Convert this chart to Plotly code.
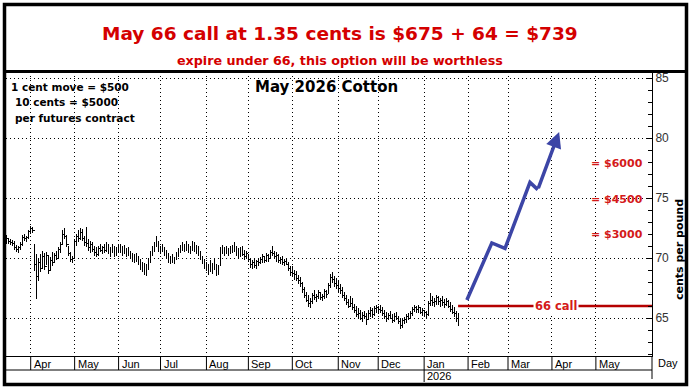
import pandas as pd
import plotly.graph_objects as go

# ---------------- data ----------------
start_date = "2025-03-14"          # first daily bar
axis_end = "2026-05-29"            # last month shown on the time axis

highs = [
    71.9, 71.7, 71.6, 71.5, 71.4, 71.1, 71.0, 71.3, 71.9, 72.0, 71.8, 72.3,
    72.7, 72.6, 71.2, 70.3, 70.0, 70.3, 70.6, 70.4, 70.5, 70.2, 70.1, 70.5, 70.4, 70.6, 70.9, 71.3, 72.3, 72.5, 71.9, 71.0, 70.5, 70.2,
    71.6, 72.0, 72.3, 72.5, 72.4, 71.8, 72.6, 71.6, 71.4, 71.3, 71.0, 70.9, 71.0, 71.2, 71.0, 71.2, 71.3, 71.1, 70.9, 71.2, 71.0, 70.9,
    71.1, 71.2, 71.0, 71.1, 70.8, 70.9, 70.6, 70.4, 70.3, 70.4, 70.2, 69.9, 69.7, 69.6, 69.5, 70.0, 70.6, 71.0, 71.3, 71.8, 71.4,
    71.0, 71.2, 70.9, 70.6, 70.4, 70.2, 70.3, 70.1, 70.5, 70.8, 71.1, 71.3, 71.2, 71.4, 71.2, 71.0, 71.4, 71.3, 71.1, 71.0, 70.6, 70.2, 69.9,
    69.7, 69.5, 69.8, 69.6, 69.9, 69.5, 69.4, 70.9, 71.1, 70.9, 71.0, 70.8, 71.0, 71.1, 71.3, 71.0, 70.8, 70.9, 71.0, 70.7, 70.6,
    70.3, 70.0, 69.8, 69.9, 69.8, 70.0, 70.1, 70.3, 70.2, 70.4, 70.3, 70.7, 71.0, 70.6, 70.5, 70.3, 70.1, 70.2, 69.9, 70.0, 69.7, 69.3,
    69.3, 69.0, 68.9, 68.6, 68.4, 68.0, 67.6, 67.2, 66.9, 66.7, 67.1, 67.3, 67.0, 67.3, 67.2, 67.0, 67.4, 67.3, 67.9, 68.7, 68.8, 68.5, 68.3,
    68.1, 67.8, 67.6, 67.2, 66.9, 66.6, 66.8, 66.7, 66.2, 66.0, 65.8, 65.7, 65.5, 65.6, 65.4, 65.7, 65.9, 65.8, 66.0, 66.1,
    66.0, 66.1, 65.9, 65.7, 65.5, 65.4, 65.6, 65.3, 65.4, 65.5, 65.2, 65.0, 65.0, 65.1, 65.3, 65.4, 65.6, 65.9, 66.1, 66.0, 66.1, 65.9, 65.8,
    65.7, 65.6, 66.4, 67.1, 66.8, 66.7, 66.9, 66.8, 66.7, 66.8, 66.6, 66.7, 66.5, 66.3, 66.1, 65.9, 65.6, 65.4,
]
lows = [
    71.2, 71.2, 71.1, 71.0, 70.7, 70.5, 70.4, 70.7, 71.0, 71.4, 71.3, 71.6,
    72.0, 72.1, 68.9, 66.6, 68.1, 68.8, 69.2, 69.0, 69.4, 68.7, 68.9, 69.3, 69.6, 69.8, 70.0, 70.4, 71.1, 71.6, 70.9, 70.2, 69.7, 69.6,
    69.9, 71.0, 71.3, 71.5, 71.4, 71.0, 70.9, 70.6, 70.4, 70.5, 70.2, 70.1, 70.2, 70.5, 70.3, 70.4, 70.5, 70.3, 70.1, 70.4, 70.1, 70.2,
    70.4, 70.4, 70.2, 70.3, 70.1, 70.2, 69.9, 69.7, 69.6, 69.7, 69.4, 69.0, 68.8, 68.6, 68.5, 69.0, 69.6, 70.2, 70.5, 70.9, 70.5,
    70.3, 70.5, 70.2, 69.9, 69.6, 69.5, 69.6, 69.5, 69.8, 70.1, 70.4, 70.6, 70.5, 70.6, 70.4, 70.3, 70.6, 70.5, 70.3, 70.2, 69.8, 69.5, 69.1,
    68.9, 68.6, 68.8, 68.7, 69.0, 68.5, 68.6, 69.3, 70.3, 70.2, 70.3, 70.2, 70.3, 70.4, 70.5, 70.2, 70.0, 70.1, 70.2, 69.8, 69.9,
    69.7, 69.2, 69.1, 69.2, 69.1, 69.3, 69.5, 69.6, 69.6, 69.7, 69.7, 69.9, 70.2, 69.9, 69.7, 69.6, 69.5, 69.4, 69.3, 69.4, 68.9, 68.5,
    68.5, 68.2, 68.1, 67.8, 67.6, 67.1, 66.7, 66.3, 65.9, 65.8, 66.2, 66.5, 66.3, 66.6, 66.5, 66.4, 66.6, 66.7, 67.0, 67.5, 67.9, 67.6, 67.4,
    67.2, 67.0, 66.7, 66.4, 66.1, 65.8, 65.9, 65.7, 65.4, 65.1, 64.9, 64.8, 64.7, 64.9, 64.4, 64.8, 65.1, 65.0, 65.2, 65.4,
    65.3, 65.4, 65.2, 64.9, 64.7, 64.8, 64.9, 64.6, 64.7, 64.8, 64.5, 64.1, 64.2, 64.5, 64.6, 64.8, 64.9, 65.2, 65.5, 65.4, 65.4, 65.3, 65.2,
    65.1, 64.9, 65.2, 66.0, 66.0, 65.9, 66.1, 66.1, 65.9, 66.0, 65.8, 66.0, 65.8, 65.5, 65.3, 65.1, 64.7, 64.3,
]
closes = [
    71.6, 71.4, 71.3, 71.2, 70.9, 70.7, 70.9, 71.1, 71.7, 71.6, 71.7, 72.2,
    72.5, 72.3, 69.5, 68.5, 69.6, 69.1, 70.1, 69.3, 70.2, 69.0, 69.8, 69.6, 70.2, 70.0, 70.7, 71.1, 72.0, 71.8, 71.1, 70.4, 69.9, 70.0,
    71.4, 71.8, 71.6, 72.1, 71.6, 71.3, 71.2, 70.9, 71.1, 70.7, 70.5, 70.3, 70.8, 70.6, 70.9, 70.6, 71.1, 70.5, 70.7, 70.9, 70.3, 70.7,
    70.9, 70.6, 70.8, 70.5, 70.6, 70.4, 70.2, 69.9, 70.1, 69.8, 69.6, 69.2, 69.4, 68.8, 69.2, 69.8, 70.4, 70.8, 71.0, 71.4, 70.8,
    70.8, 70.7, 70.6, 70.1, 69.8, 70.0, 69.7, 69.9, 70.3, 70.6, 70.9, 71.0, 70.7, 71.2, 70.6, 70.8, 71.1, 70.7, 70.9, 70.4, 70.0, 69.7, 69.4,
    69.1, 69.3, 69.0, 69.4, 69.2, 68.8, 69.2, 70.7, 70.6, 70.8, 70.5, 70.6, 70.8, 70.7, 71.0, 70.4, 70.5, 70.7, 70.3, 70.1, 70.4,
    69.9, 69.5, 69.6, 69.4, 69.7, 69.6, 69.9, 70.1, 69.8, 70.2, 70.0, 70.5, 70.4, 70.1, 70.2, 69.8, 69.9, 69.6, 69.7, 69.5, 69.1, 68.8,
    68.7, 68.6, 68.3, 68.1, 67.9, 67.4, 66.9, 66.5, 66.2, 66.4, 66.9, 66.7, 66.8, 67.1, 66.7, 66.8, 67.2, 67.0, 67.7, 68.4, 68.2, 67.9, 67.7,
    67.5, 67.3, 66.9, 66.6, 66.3, 66.0, 66.2, 65.9, 65.6, 65.3, 65.4, 65.0, 65.2, 65.1, 64.9, 65.4, 65.6, 65.3, 65.8, 65.9,
    65.7, 65.6, 65.4, 65.1, 65.0, 65.2, 65.0, 64.8, 65.1, 65.0, 64.7, 64.4, 64.8, 64.9, 65.1, 65.0, 65.4, 65.7, 65.9, 65.7, 65.9, 65.5, 65.6,
    65.5, 65.3, 66.2, 66.5, 66.3, 66.4, 66.7, 66.4, 66.5, 66.3, 66.1, 66.4, 66.0, 65.7, 65.5, 65.4, 65.0, 64.8,
]

# projected path (trading-day index, cents/lb)
proj_x = [230.4, 242.9, 249.5, 262.0, 265.9]
proj_y = [66.5, 71.25, 70.8, 76.3, 75.7]
arrow_tip_x = 276.6
arrow_tip_y = 80.5

strike = 66
strike_start = 226
strike_label = "66 call"
strike_label_x = 275

y_ticks = [65, 70, 75, 80, 85]
profit_labels = ["= $6000", "= $4500", "= $3000"]
profit_levels = [77.9, 74.9, 72.0]

title_1 = "May 66 call at 1.35 cents is $675 + 64 = $739"
title_2 = "expire under 66, this option will be worthless"
chart_name = "May 2026 Cotton"
note_lines = ["1 cent move = $500", "10 cents = $5000", "per futures contract"]
y_title = "cents per pound"

# ---------------- layout geometry ----------------
W, H = 691, 390
L, R, T, B = 6, 652, 72, 356
X_RANGE = [-0.37, 323.1]
Y_RANGE = [61.833, 85.5]


def fx(p):
    return (p - L) / (R - L)


def fy(p):
    return (B - p) / (B - T)


n = len(closes)
bar_x = list(range(n))
opens = [closes[0]] + closes[:-1]

axis_days = pd.bdate_range(start_date, axis_end)
month_starts = [i for i in range(1, len(axis_days)) if axis_days[i].month != axis_days[i - 1].month]
month_names = [axis_days[i].strftime("%b") for i in month_starts]

RED = "#d40000"
RED2 = "#d41a1a"
BLUE = "#3c45a6"
BOLD = "DejaVu Sans"
REG = "Liberation Sans"

fig = go.Figure()
fig.add_trace(go.Ohlc(
    x=bar_x, open=opens, high=highs, low=lows, close=closes,
    increasing=dict(line=dict(color="black", width=1)),
    decreasing=dict(line=dict(color="black", width=1)),
    tickwidth=0.45, hoverinfo="skip", showlegend=False,
))
fig.add_trace(go.Scatter(
    x=[strike_start, X_RANGE[1]], y=[strike, strike], mode="lines",
    line=dict(color="#b50000", width=2.5), hoverinfo="skip", showlegend=False,
))
fig.add_trace(go.Scatter(
    x=proj_x, y=proj_y, mode="lines",
    line=dict(color=BLUE, width=3.5), hoverinfo="skip", showlegend=False,
))

ann = []
ann.append(dict(x=arrow_tip_x, y=arrow_tip_y, ax=proj_x[-1], ay=proj_y[-1],
                xref="x", yref="y", axref="x", ayref="y", text="",
                showarrow=True, arrowhead=2, arrowsize=0.9, arrowwidth=3.5,
                arrowcolor=BLUE, standoff=0, startstandoff=0))


def txt(x, y, s, size, color="black", family=BOLD, weight="bold", xa="center", angle=0):
    ann.append(dict(x=fx(x), y=fy(y), xref="paper", yref="paper", text=s,
                    showarrow=False, xanchor=xa, yanchor="middle", textangle=angle,
                    font=dict(family=family, size=size, color=color, weight=weight)))


txt(339.5, 33, title_1, 18.5, RED)
txt(339.5, 61, title_2, 12.7, RED)
txt(9, 87, note_lines[0], 10.5, xa="left")
txt(13, 102, note_lines[1], 10.5, xa="left")
txt(13, 118, note_lines[2], 10.5, xa="left")
txt(253, 87, chart_name, 15, xa="left")
txt(679, 250, y_title, 11, angle=-90)
txt(656, 363, "Day", 11, family=REG, weight="normal", xa="left")

for lab, lev in zip(profit_labels, profit_levels):
    ann.append(dict(x=fx(645), y=lev, xref="paper", yref="y", text=lab, showarrow=False,
                    xanchor="right", yanchor="middle",
                    font=dict(family=BOLD, size=11, color=RED2, weight="bold")))

ann.append(dict(x=strike_label_x, y=strike, xref="x", yref="y", text=strike_label,
                showarrow=False, xanchor="center", yanchor="middle", bgcolor="white",
                borderpad=1, font=dict(family=BOLD, size=11.5, color=RED2, weight="bold")))

shapes = []
for i, name in zip(month_starts, month_names):
    ann.append(dict(x=i, y=fy(364), xref="x", yref="paper", text=name, showarrow=False,
                    xanchor="left", yanchor="middle", xshift=1,
                    font=dict(family=REG, size=11, color="black")))
    shapes.append(dict(type="line", xref="x", yref="paper", x0=i, x1=i, y0=fy(356), y1=fy(370),
                       line=dict(color="black", width=1)))
    if axis_days[i].month == 1:
        ann.append(dict(x=i, y=fy(376), xref="x", yref="paper", text=axis_days[i].strftime("%Y"),
                        showarrow=False, xanchor="left", yanchor="middle", xshift=1,
                        font=dict(family=REG, size=11, color="black")))
        shapes.append(dict(type="line", xref="x", yref="paper", x0=i, x1=i, y0=fy(370), y1=fy(382),
                           line=dict(color="black", width=1)))

shapes.append(dict(type="line", xref="paper", yref="paper", x0=0, x1=1, y0=fy(370), y1=fy(370),
                   line=dict(color="black", width=1)))
shapes.append(dict(type="line", xref="paper", yref="paper", x0=1, x1=1, y0=fy(356), y1=fy(379),
                   line=dict(color="black", width=1)))
shapes.append(dict(type="line", xref="paper", yref="paper", x0=fx(3), x1=fx(688), y0=fy(71.5), y1=fy(71.5),
                   line=dict(color="black", width=3)))
shapes.append(dict(type="rect", xref="paper", yref="paper", x0=fx(4.5), x1=fx(686.5), y0=fy(384.5), y1=fy(4.5),
                   line=dict(color="black", width=3.5)))

fig.update_layout(
    template="none",
    width=W, height=H, autosize=False,
    margin=dict(l=L, r=W - R, t=T, b=H - B, pad=0),
    paper_bgcolor="white", plot_bgcolor="white",
    showlegend=False,
    annotations=ann, shapes=shapes,
    xaxis=dict(range=X_RANGE, tickvals=month_starts, showticklabels=False, ticks="",
               showgrid=True, gridcolor="black", gridwidth=1, griddash="1px,3px",
               showline=True, linecolor="black", linewidth=1, zeroline=False,
               rangeslider=dict(visible=False), fixedrange=True),
    yaxis=dict(range=Y_RANGE, side="right", tickvals=y_ticks, ticktext=[str(v) for v in y_ticks],
               tickfont=dict(family=REG, size=12, color="#333333"),
               ticks="inside", ticklen=6, tickcolor="black",
               minor=dict(dtick=1, ticks="inside", ticklen=4, tickcolor="black", showgrid=False),
               showgrid=True, gridcolor="black", gridwidth=1, griddash="1px,3px",
               showline=True, linecolor="black", linewidth=1, zeroline=False, fixedrange=True),
)

fig.write_html(
    "out.html",
    config={"displayModeBar": False},
    post_script="document.body.style.margin='0px';document.body.style.padding='0px';"
                "document.body.style.overflow='hidden';"
                "document.querySelectorAll('.ohlclayer path').forEach(function(p){"
                "p.style.shapeRendering='crispEdges';});",
)
